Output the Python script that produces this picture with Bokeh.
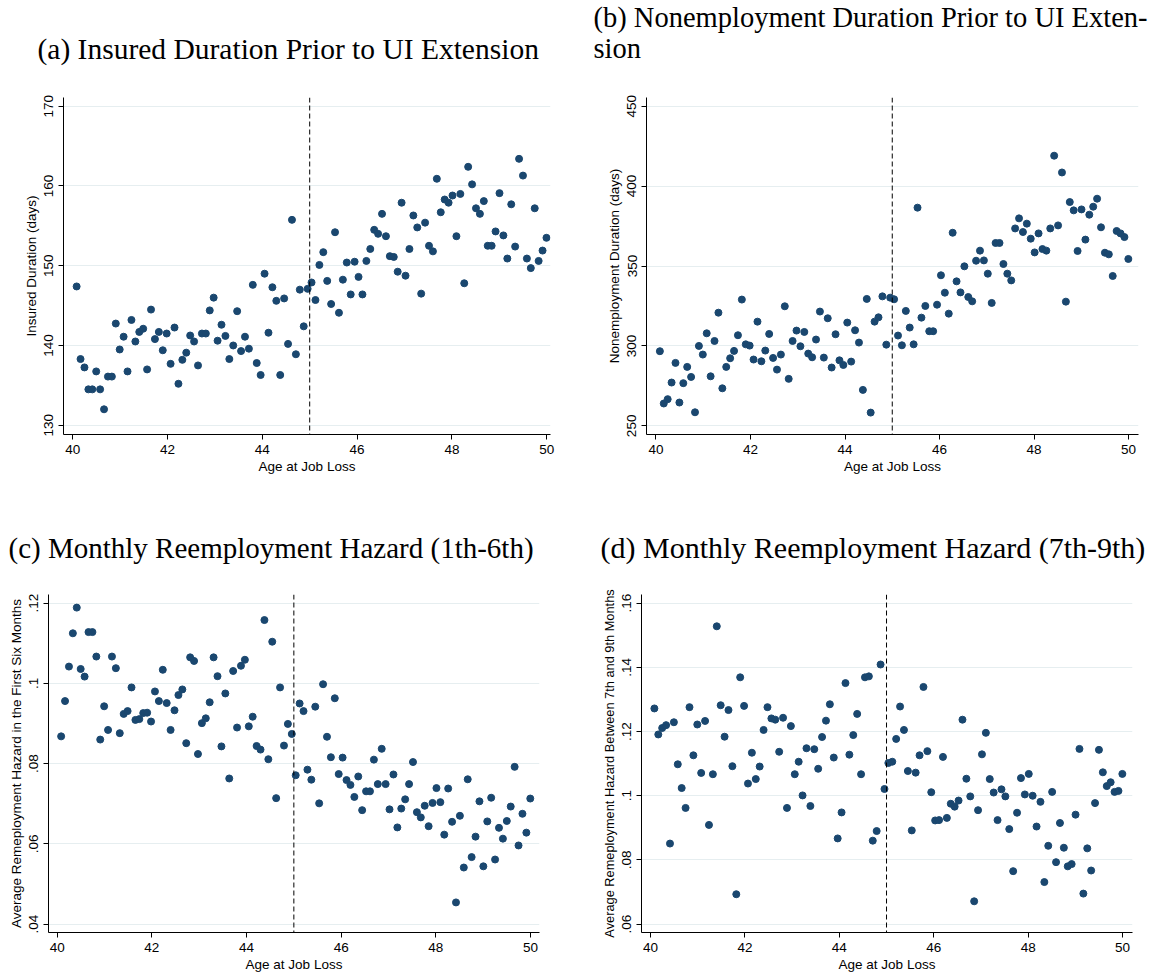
from bokeh.plotting import figure
from bokeh.models import FixedTicker, Span, Range1d
from bokeh.core.properties import value
from bokeh.layouts import column, row
from bokeh.embed import file_html
from bokeh.resources import INLINE

# Age at job loss: centres of 121 evenly spaced age bins between 40 and 50
AGE = [round(40.083 + i * 0.0826, 4) for i in range(121)]

X_TICKS = [40, 42, 44, 46, 48, 50]
CUTOFF_AGE = 45

# (a) insured duration prior to UI extension (days)
INSURED = [
    147.4, 138.3, 137.25, 134.5, 134.5, 136.75, 134.5, 132.0, 136.1, 136.1,
    142.75, 139.5, 141.1, 136.75, 143.2, 140.5, 141.7, 142.1, 137.0, 144.5,
    140.8, 141.7, 139.4, 141.5, 137.7, 142.25, 135.2, 138.2, 139.1, 141.25,
    140.5, 137.5, 141.5, 141.5, 144.4, 146.0, 140.6, 142.6, 141.2, 138.3,
    140.0, 144.3, 139.3, 141.1, 139.6, 147.6, 137.8, 136.3, 149.0, 141.6,
    147.3, 145.6, 136.3, 145.9, 140.2, 155.75, 138.9, 147.0,
    142.4, 147.1, 147.9, 145.7, 150.1, 151.7, 148.1, 145.2, 154.2, 144.1,
    148.25, 150.4, 146.4, 150.5, 148.6, 146.4, 150.6, 152.1, 154.5, 154.0,
    156.5, 153.7, 151.2, 151.1, 149.25, 157.9, 148.75, 152.1, 156.3, 154.8,
    146.5, 155.4, 152.5, 151.8, 160.9, 156.7, 158.3, 157.9, 158.8, 153.7,
    159.0, 147.8, 162.4, 160.2, 157.2, 156.5, 158.1, 152.5, 152.5, 154.3,
    159.1, 153.8, 150.9, 157.7, 152.4, 163.4, 161.3, 150.9, 149.7, 157.2,
    150.6, 151.9, 153.5,
]
INSURED_TICKS = [130, 140, 150, 160, 170]
INSURED_TICK_LABELS = ["130", "140", "150", "160", "170"]

# (b) nonemployment duration prior to UI extension (days)
NONEMP = [
    296.7, 264.0, 266.7, 277.1, 289.4, 264.6, 276.7, 286.9, 280.6, 258.5,
    300.0, 294.6, 307.9, 281.0, 303.1, 320.8, 273.5, 286.9, 292.3, 296.9,
    306.7, 329.0, 301.0, 300.2, 291.5, 315.2, 290.4, 297.1, 307.5, 292.5,
    285.2, 294.6, 324.8, 279.4, 303.1, 309.6, 299.8, 308.75, 295.2, 292.9,
    304.0, 321.5, 292.7, 317.3, 286.5, 307.3, 291.0, 288.1, 314.6, 290.2,
    309.8, 302.1, 272.5, 329.4, 258.3, 315.2, 317.9, 331.0, 300.8, 330.2,
    329.2, 306.5, 300.4, 321.9, 311.5, 301.0, 386.5, 317.7, 325.0, 309.2,
    309.2, 325.8, 344.2, 333.3, 320.2, 370.8, 340.4, 333.5, 349.8, 330.6,
    327.9, 353.3, 359.6, 353.5, 345.2, 326.9, 364.4, 364.4, 351.25, 345.2,
    341.0, 373.5, 379.8, 371.25, 376.5, 367.1, 358.5, 370.4, 360.6, 359.6,
    373.5, 419.0, 375.4, 408.5, 327.7, 390.0, 384.8, 359.4, 385.4, 366.5,
    382.1, 387.1, 392.1, 374.2, 358.3, 357.3, 343.75, 371.9, 370.4, 368.1,
    354.4,
]
NONEMP_TICKS = [250, 300, 350, 400, 450]
NONEMP_TICK_LABELS = ["250", "300", "350", "400", "450"]

# (c) average monthly reemployment hazard, months 1-6
HAZARD_1_6 = [
    0.0868, 0.0956, 0.1042, 0.1125, 0.1189, 0.1036, 0.1017, 0.1128, 0.1128, 0.1067,
    0.0860, 0.0943, 0.0884, 0.1067, 0.1038, 0.0876, 0.0924, 0.0931, 0.0990, 0.0909,
    0.0911, 0.0926, 0.0927, 0.0905, 0.0980, 0.0956, 0.1034, 0.0951, 0.0884, 0.0933,
    0.0971, 0.0985, 0.0851, 0.1065, 0.1056, 0.0824, 0.0901, 0.0913, 0.0953, 0.1065,
    0.1018, 0.0843, 0.0975, 0.0763, 0.1031, 0.0890, 0.1044, 0.1059, 0.0893, 0.0917,
    0.0844, 0.0835, 0.1158, 0.0811, 0.1104, 0.0714, 0.0990, 0.0845, 0.0899, 0.0874,
    0.0771, 0.0950, 0.0931, 0.0785, 0.0760, 0.0942, 0.0701, 0.0998, 0.0867, 0.0816,
    0.0963, 0.0774, 0.0815, 0.0759, 0.0747, 0.0717, 0.0768, 0.0684, 0.0731, 0.0731,
    0.0810, 0.0749, 0.0837, 0.0749, 0.0686, 0.0773, 0.0641, 0.0688, 0.0711, 0.0749,
    0.0804, 0.0679, 0.0666, 0.0695, 0.0644, 0.0702, 0.0739, 0.0704, 0.0623, 0.0738,
    0.0655, 0.0454, 0.0670, 0.0541, 0.0761, 0.0567, 0.0618, 0.0706, 0.0544, 0.0656,
    0.0715, 0.0561, 0.0640, 0.0613, 0.0657, 0.0693, 0.0792, 0.0596, 0.0675, 0.0628,
    0.0713,
]
HAZARD_1_6_TICKS = [0.04, 0.06, 0.08, 0.10, 0.12]
HAZARD_1_6_TICK_LABELS = [".04", ".06", ".08", ".1", ".12"]

# (d) average monthly reemployment hazard, months 7-9
HAZARD_7_9 = [
    0.1272, 0.1191, 0.1211, 0.1220, 0.0851, 0.1229, 0.1098, 0.1024, 0.0962, 0.1276,
    0.1126, 0.1222, 0.1071, 0.1233, 0.0909, 0.1067, 0.1528, 0.1282, 0.1184, 0.1267,
    0.1092, 0.0693, 0.1369, 0.1280, 0.1038, 0.1134, 0.1052, 0.1091, 0.1205, 0.1276,
    0.1241, 0.1237, 0.1137, 0.1243, 0.0962, 0.1217, 0.1067, 0.1106, 0.1001, 0.1148,
    0.0968, 0.1145, 0.1084, 0.1183, 0.1234, 0.1285, 0.1119, 0.0867, 0.0948, 0.1351,
    0.1128, 0.1189, 0.1255, 0.1067, 0.1369, 0.1372, 0.0860, 0.0890, 0.1409, 0.1021,
    0.1102, 0.1106, 0.1177, 0.1278, 0.1205, 0.1077, 0.0892, 0.1072, 0.1126, 0.1339,
    0.1139, 0.1011, 0.0923, 0.0924, 0.1121, 0.0931, 0.0975, 0.0966, 0.0985, 0.1237,
    0.1053, 0.0998, 0.0671, 0.0955, 0.1129, 0.1196, 0.1052, 0.1010, 0.0924, 0.1020,
    0.0998, 0.0896, 0.0765, 0.0947, 0.1055, 0.1004, 0.1068, 0.1000, 0.0904, 0.0981,
    0.0731, 0.0844, 0.1012, 0.0793, 0.0915, 0.0838, 0.0780, 0.0787, 0.0941, 0.1146,
    0.0695, 0.0836, 0.0767, 0.0977, 0.1143, 0.1073, 0.1030, 0.1042, 0.1012, 0.1015,
    0.1068,
]
HAZARD_7_9_TICKS = [0.06, 0.08, 0.10, 0.12, 0.14, 0.16]
HAZARD_7_9_TICK_LABELS = [".06", ".08", ".1", ".12", ".14", ".16"]

# Panel captions, one list entry per printed line
TOP_TITLES = ["(a) Insured Duration Prior to UI Extension",
              "(b) Nonemployment Duration Prior to UI Exten-",
              "sion"]
BOTTOM_TITLES = ["(c) Monthly Reemployment Hazard (1th-6th)",
                 "(d) Monthly Reemployment Hazard (7th-9th)"]

NAVY = "#1a476f"
GRID = "#e6eef0"
SANS = "Liberation Sans"
SERIF = "Liberation Serif"
TICK_FONT = "13.5px"
PAGE_W = 1159


def caption_strip(height, texts, xs, ys, sizes):
    """A bare strip (pixel coordinates, y downwards) holding caption lines."""
    p = figure(width=PAGE_W, height=height,
               x_range=Range1d(0, PAGE_W), y_range=Range1d(height, 0),
               x_axis_type=None, y_axis_type=None,
               output_backend="svg", toolbar_location=None,
               min_border=0, min_border_left=0, min_border_right=0,
               min_border_top=0, min_border_bottom=0,
               outline_line_color=None,
               background_fill_color="white", border_fill_color="white")
    p.xgrid.visible = False
    p.ygrid.visible = False
    p.text(x=xs, y=ys, text=texts, text_font=value(SERIF),
           text_font_size=sizes, text_color="black",
           text_align="left", text_baseline="middle")
    return p


def make_panel(width, height, borders, x_range, y_range, y_vals,
               y_ticks, y_tick_labels, y_label, y_label_size=TICK_FONT):
    left, right, top, bottom = borders
    p = figure(width=width, height=height,
               x_range=Range1d(*x_range), y_range=Range1d(*y_range),
               output_backend="svg", toolbar_location=None,
               min_border_left=left, min_border_right=right,
               min_border_top=top, min_border_bottom=bottom,
               outline_line_color=None,
               background_fill_color="white", border_fill_color="white")

    p.scatter(AGE, y_vals, size=7, fill_color=NAVY, line_color=NAVY)
    p.add_layout(Span(location=CUTOFF_AGE, dimension="height",
                      line_color="black", line_width=1, line_dash="5 3"))

    p.xaxis.ticker = FixedTicker(ticks=X_TICKS)
    p.yaxis.ticker = FixedTicker(ticks=y_ticks)
    p.yaxis.major_label_overrides = dict(zip(y_ticks, y_tick_labels))
    p.yaxis.major_label_orientation = "vertical"
    p.xaxis.axis_label = "Age at Job Loss"
    p.yaxis.axis_label = y_label
    p.xaxis.axis_label_standoff = 2
    p.yaxis.axis_label_standoff = 3

    for ax in (p.xaxis[0], p.yaxis[0]):
        ax.axis_line_color = "black"
        ax.axis_line_width = 1
        ax.major_tick_line_color = "black"
        ax.major_tick_out = 5
        ax.major_tick_in = 0
        ax.minor_tick_line_color = None
        ax.major_label_text_font = SANS
        ax.major_label_text_font_size = TICK_FONT
        ax.major_label_text_color = "black"
        ax.axis_label_text_font = SANS
        ax.axis_label_text_font_size = TICK_FONT
        ax.axis_label_text_font_style = "normal"
        ax.axis_label_text_color = "black"
    p.yaxis.axis_label_text_font_size = y_label_size

    p.xgrid.visible = False
    p.ygrid.ticker = FixedTicker(ticks=y_ticks)
    p.ygrid.grid_line_color = GRID
    p.ygrid.grid_line_width = 1
    return p


top_strip = caption_strip(80, TOP_TITLES, [37, 593, 593], [48, 17, 48],
                          ["29.5px", "28.5px", "28.5px"])

pa = make_panel(590, 410, (63, 40, 17, 55), (39.806, 50.08), (128.84, 171.09),
                INSURED, INSURED_TICKS, INSURED_TICK_LABELS,
                "Insured Duration (days)")

pb = make_panel(569, 410, (56, 21, 17, 56), (39.80, 50.21), (244.6, 455.4),
                NONEMP, NONEMP_TICKS, NONEMP_TICK_LABELS,
                "Nonemployment Duration (days)")

bottom_strip = caption_strip(92, BOTTOM_TITLES, [8, 600], [57, 57],
                             ["29px", "30px"])

pc = make_panel(590, 397, (48, 51, 12, 47), (39.816, 50.19), (0.0379, 0.12217),
                HAZARD_1_6, HAZARD_1_6_TICKS, HAZARD_1_6_TICK_LABELS,
                "Average Remeployment Hazard in the First Six Months")

pd_ = make_panel(569, 397, (51, 27, 12, 47), (39.81, 50.21), (0.05738, 0.16271),
                 HAZARD_7_9, HAZARD_7_9_TICKS, HAZARD_7_9_TICK_LABELS,
                 "Average Remeployment Hazard Between 7th and 9th Months",
                 y_label_size="12.8px")

layout = column(top_strip, row(pa, pb), bottom_strip, row(pc, pd_))

with open("out.html", "w") as f:
    f.write(file_html(layout, INLINE))
